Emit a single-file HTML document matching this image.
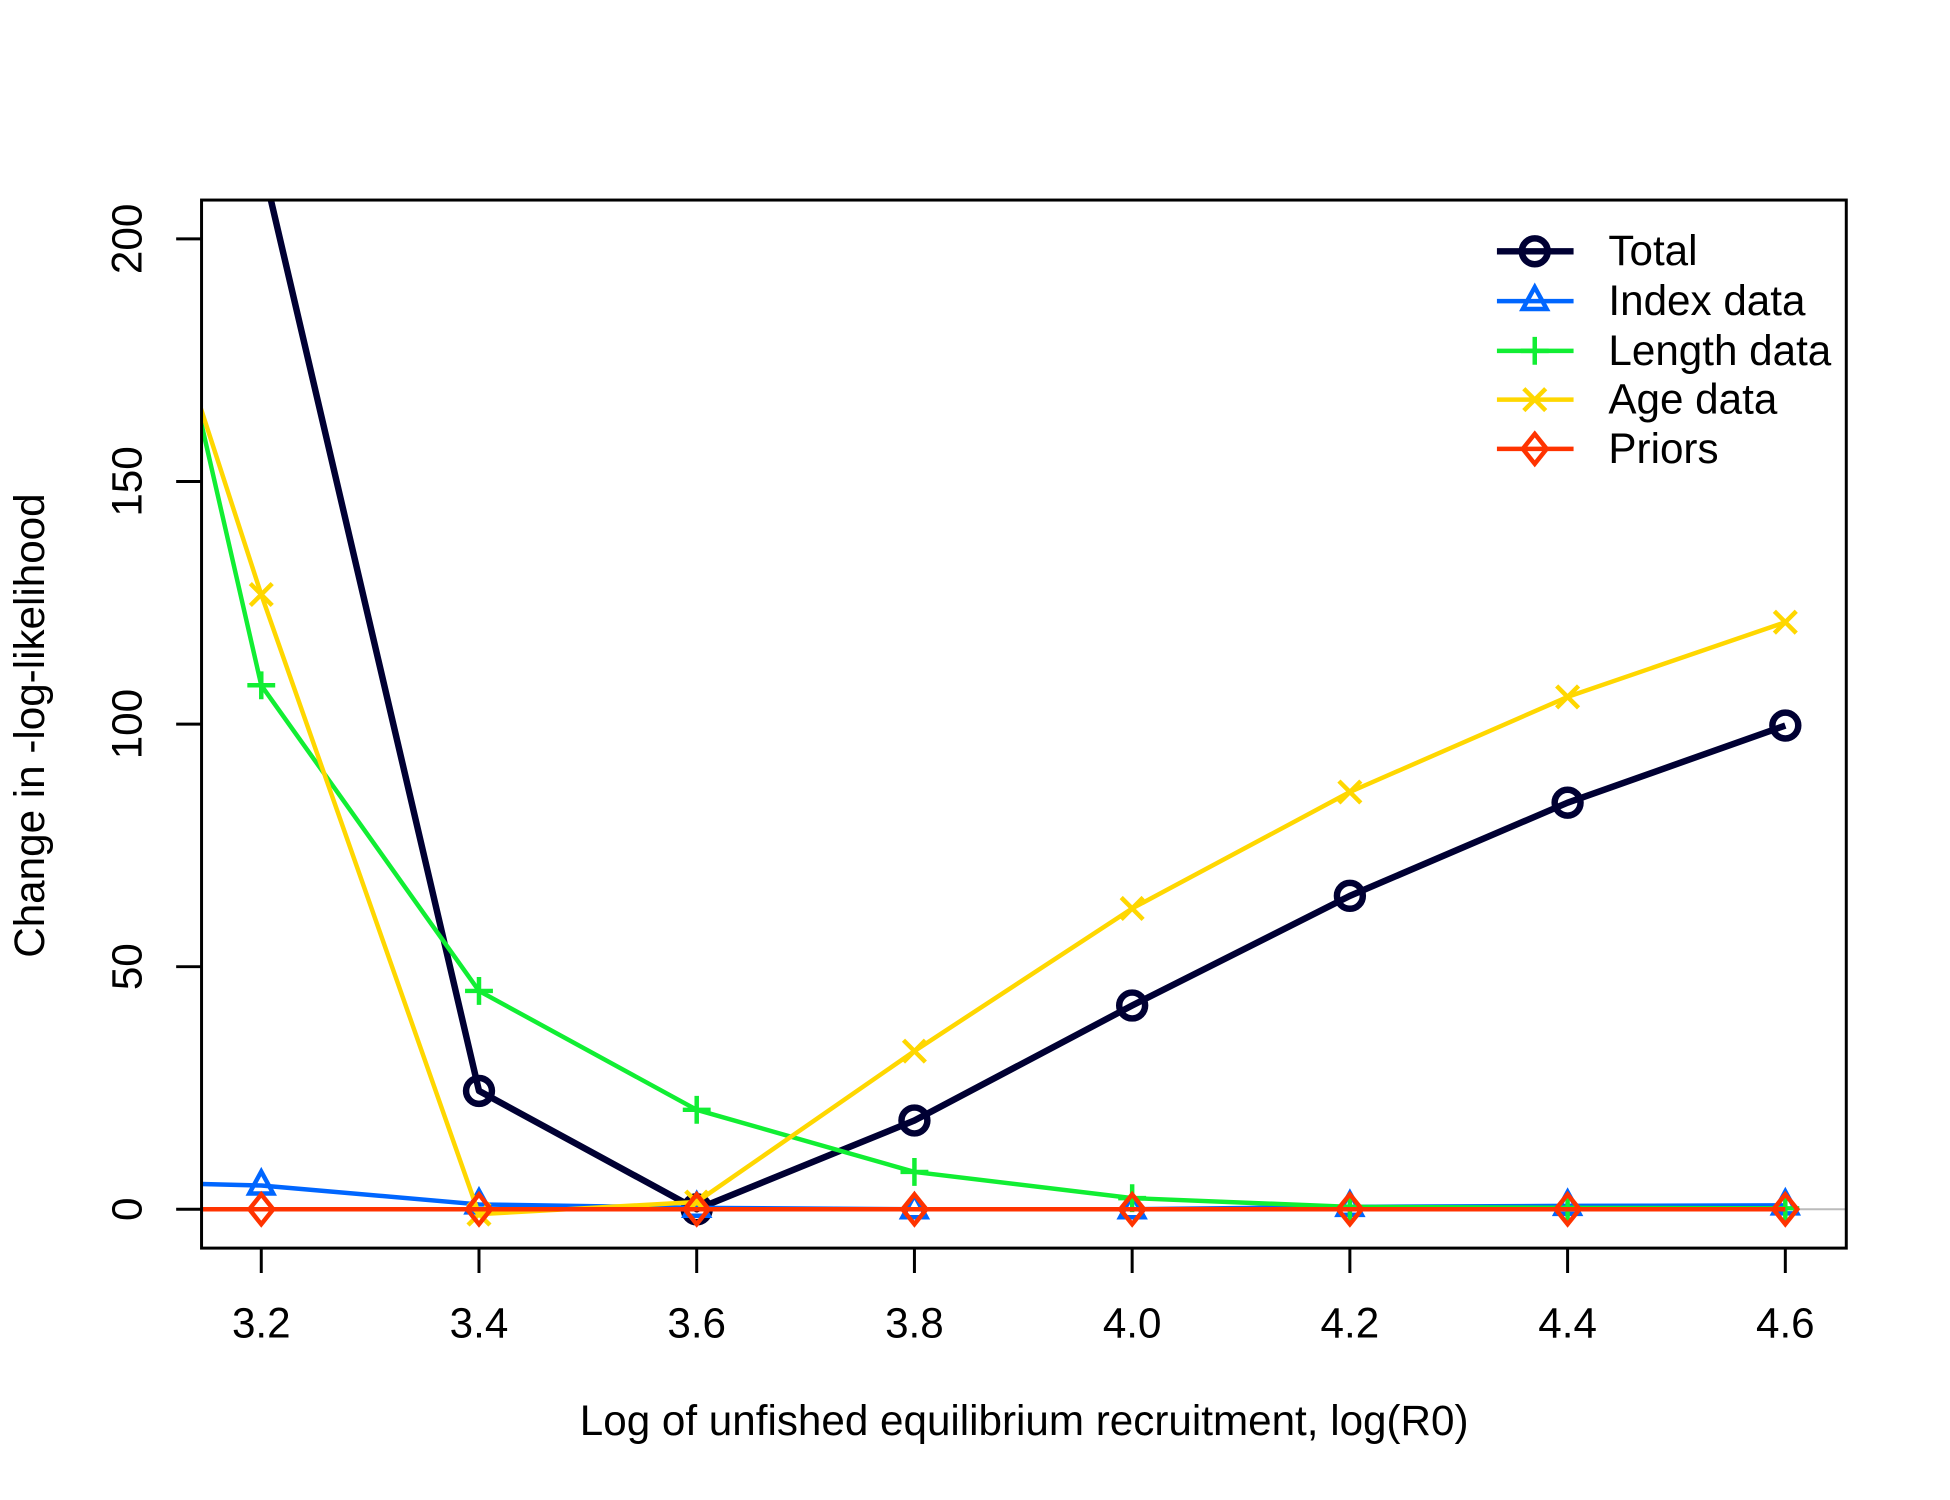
<!DOCTYPE html>
<html><head><meta charset="utf-8"><style>body{margin:0;background:#fff}svg{display:block;font-family:"Liberation Sans",Arial,sans-serif}</style></head>
<body>
<svg id="chart" width="1950" height="1500" viewBox="0 0 1950 1500">
<defs><clipPath id="clip"><rect x="202.5" y="201" width="1652.5" height="1053"/></clipPath></defs>
<g transform="scale(0.9953)">
<g id="plot" clip-path="url(#clip)"></g>
<g id="axes"></g>
<g id="legend"></g>
</g>
</svg>
<script>
const xVals=[3.0,3.2,3.4,3.6,3.8,4.0,4.2,4.4,4.6];
const totalVals=[408,216.5,24.4,0,18.3,42,64.6,83.8,99.7];
const indexVals=[6,4.9,1.0,0.3,0,0,0.5,0.7,0.8];
const lengthVals=[304,108,45,20.5,7.7,2.3,0.5,0.3,0.2];
const ageVals=[265,126.7,-1,1.5,32.6,62,86,105.6,121];
const priorVals=[0,0,0,0,0,0,0,0,0];
const xTicks=[3.2,3.4,3.6,3.8,4.0,4.2,4.4,4.6];
const xTickLabels=["3.2","3.4","3.6","3.8","4.0","4.2","4.4","4.6"];
const yTicks=[0,50,100,150,200];
const seriesNames=["Total","Index data","Length data","Age data","Priors"];

const NS="http://www.w3.org/2000/svg";
const X=v=>262.5+(v-3.2)/0.2*218.75;
const Y=v=>1215-v*4.875;
function mk(tag,attrs,parent){const e=document.createElementNS(NS,tag);for(const k in attrs)e.setAttribute(k,attrs[k]);parent.appendChild(e);return e;}
const plot=document.getElementById('plot'),axes=document.getElementById('axes'),legend=document.getElementById('legend');

const zl=mk('line',{x1:202.5,x2:1855,y1:Y(0),y2:Y(0),stroke:'#bbb','stroke-width':2},plot);



const series=[
 {vals:totalVals,col:'#000033',w:6.5,sym:'circle',name:'total'},
 {vals:indexVals,col:'#0066FF',w:4.5,sym:'tri',name:'index'},
 {vals:lengthVals,col:'#11EE33',w:4.5,sym:'plus',name:'length'},
 {vals:ageVals,col:'#FFD700',w:4.5,sym:'x',name:'age'},
 {vals:priorVals,col:'#FF3300',w:4.5,sym:'diamond',name:'priors'}
];
function symbol(type,cx,cy,col,parent,w){
 let e;
 if(type==='circle')e=mk('circle',{cx,cy,r:13,fill:'none',stroke:col,'stroke-width':w},parent);
 else if(type==='tri')e=mk('polygon',{points:`${cx},${cy-14} ${cx-12},${cy+8} ${cx+12},${cy+8}`,fill:'none',stroke:col,'stroke-width':w},parent);
 else if(type==='plus')e=mk('path',{d:`M${cx-14},${cy}H${cx+14}M${cx},${cy-14}V${cy+14}`,stroke:col,'stroke-width':w},parent);
 else if(type==='x')e=mk('path',{d:`M${cx-11},${cy-11}L${cx+11},${cy+11}M${cx-11},${cy+11}L${cx+11},${cy-11}`,stroke:col,'stroke-width':w},parent);
 else e=mk('polygon',{points:`${cx},${cy-15} ${cx+12},${cy} ${cx},${cy+15} ${cx-12},${cy}`,fill:'none',stroke:col,'stroke-width':w},parent);
 return e;
}
series.forEach(s=>{
 const g=mk('g',{},plot);
 
 
 const pl=mk('polyline',{points:xVals.map((x,i)=>X(x)+','+Y(s.vals[i])).join(' '),fill:'none',stroke:s.col,'stroke-width':s.w,'stroke-linejoin':'round'},g);
 
 
 xVals.forEach((x,i)=>{
  const m=symbol(s.sym,X(x),Y(s.vals[i]),s.col,g,s.w);
  
  
 });
});

const box=mk('rect',{x:202.5,y:201,width:1652.5,height:1053,fill:'none',stroke:'#000','stroke-width':3},axes);


xTicks.forEach((t,i)=>{
 const l=mk('line',{x1:X(t),x2:X(t),y1:1254,y2:1279,stroke:'#000','stroke-width':3},axes);
 
 
 const tx=mk('text',{x:X(t),y:1344,'text-anchor':'middle','font-size':42.4},axes);
 tx.textContent=xTickLabels[i];
 
 
});
yTicks.forEach(t=>{
 const l=mk('line',{x1:177,x2:202.5,y1:Y(t),y2:Y(t),stroke:'#000','stroke-width':3},axes);
 
 
 const tx=mk('text',{x:142,y:Y(t),'text-anchor':'middle','font-size':42.4,transform:`rotate(-90 142 ${Y(t)})`},axes);
 tx.textContent=String(t);
 
 
});
const xt=mk('text',{x:1029,y:1442,'text-anchor':'middle','font-size':42.4},axes);
xt.textContent='Log of unfished equilibrium recruitment, log(R0)';


const yt=mk('text',{x:44,y:729,'text-anchor':'middle','font-size':42.4,transform:'rotate(-90 44 729)'},axes);
yt.textContent='Change in -log-likelihood';



const ly=[252.5,302.5,352.5,401.5,451];
series.forEach((s,i)=>{
 const g=mk('g',{},legend);
 
 
 mk('line',{x1:1504,x2:1581,y1:ly[i],y2:ly[i],stroke:s.col,'stroke-width':s.w},g);
 symbol(s.sym,1542,ly[i],s.col,g,s.w);
 const tx=mk('text',{x:1616,y:ly[i]+14,'font-size':42.4},g);
 tx.textContent=seriesNames[i];
});
</script>
</body></html>
